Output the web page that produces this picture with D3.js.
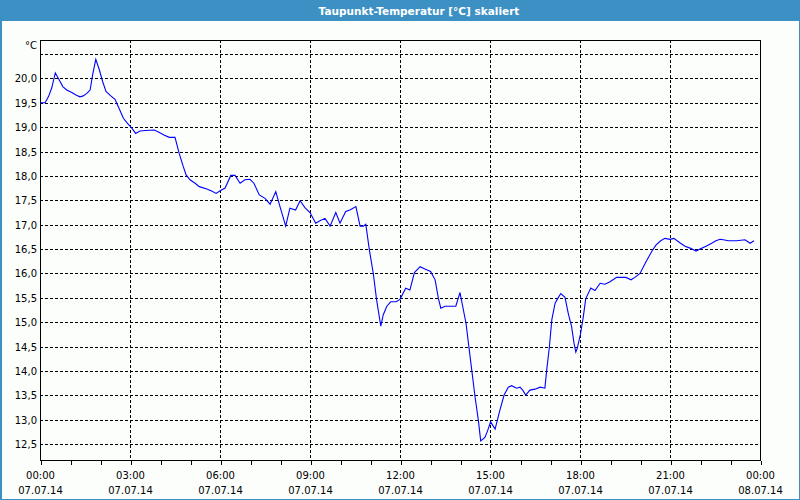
<!DOCTYPE html>
<html>
<head>
<meta charset="utf-8">
<script src="https://cdn.jsdelivr.net/npm/d3@7"></script>
<style>
  html, body { margin: 0; padding: 0; background: #fcfefc; }
  svg { display: block; }
  text { font-family: "DejaVu Sans", Verdana, sans-serif; }
</style>
</head>
<body>
<svg id="chart" width="800" height="500"></svg>
<script>
const title = "Taupunkt-Temperatur [°C] skaliert";
const unitLabel = "°C";

// time of each sample in hours after 07.07.14 00:00
const hours = [
  0, 0.17, 0.28, 0.39, 0.51, 0.61, 0.76, 0.89, 1.06, 1.20, 1.33, 1.44, 1.56, 1.67, 1.76, 1.86, 1.98,
  2.09, 2.20, 2.36, 2.50, 2.63, 2.78, 2.91, 3.06, 3.19, 3.33, 3.53, 3.81, 3.98, 4.13, 4.31, 4.50,
  4.64, 4.76, 4.87, 5.00, 5.17, 5.31, 5.56, 5.72, 5.87, 6.02, 6.17, 6.36, 6.50, 6.67, 6.83, 7.00,
  7.13, 7.31, 7.50, 7.67, 7.86, 8.00, 8.19, 8.33, 8.52, 8.67, 8.83, 9.00, 9.19, 9.33, 9.50, 9.67,
  9.86, 10.00, 10.19, 10.33, 10.53, 10.67, 10.78, 10.86, 10.98, 11.11, 11.22, 11.36, 11.44, 11.56,
  11.69, 11.87, 12.00, 12.19, 12.33, 12.48, 12.67, 12.83, 13.02, 13.17, 13.28, 13.36, 13.50, 13.86,
  14.00, 14.20, 14.31, 14.50, 14.61, 14.69, 14.83, 14.91, 15.02, 15.17, 15.33, 15.47, 15.61, 15.72,
  15.89, 16.00, 16.09, 16.19, 16.33, 16.50, 16.67, 16.83, 16.89, 16.98, 17.06, 17.17, 17.26, 17.36,
  17.50, 17.61, 17.72, 17.80, 17.86, 17.91, 18.02, 18.11, 18.19, 18.36, 18.50, 18.67, 18.83, 19.00,
  19.22, 19.53, 19.70, 19.83, 20.00, 20.20, 20.39, 20.53, 20.69, 20.83, 21.00, 21.13, 21.33, 21.50,
  21.67, 21.87, 22.00, 22.20, 22.39, 22.53, 22.67, 22.78, 22.94, 23.22, 23.50, 23.67, 23.80
];

// dew point in °C
const dewPoint = [
  19.50, 19.50, 19.62, 19.80, 20.11, 20.00, 19.83, 19.76, 19.71, 19.66, 19.62, 19.64, 19.69, 19.76, 20.09, 20.39, 20.17,
  19.93, 19.73, 19.64, 19.57, 19.39, 19.18, 19.08, 18.98, 18.87, 18.92, 18.93, 18.94, 18.89, 18.84, 18.79, 18.79,
  18.46, 18.22, 18.02, 17.92, 17.85, 17.78, 17.73, 17.69, 17.64, 17.70, 17.75, 18.01, 18.01, 17.85, 17.92, 17.93,
  17.85, 17.61, 17.54, 17.42, 17.68, 17.37, 16.97, 17.34, 17.30, 17.49, 17.35, 17.25, 17.03, 17.08, 17.13, 16.97,
  17.25, 17.03, 17.27, 17.30, 17.37, 16.97, 16.97, 17.01, 16.48, 16.00, 15.46, 14.92, 15.15, 15.33,
  15.42, 15.42, 15.47, 15.70, 15.66, 16.02, 16.14, 16.09, 16.04, 15.87, 15.49, 15.29, 15.33, 15.33,
  15.61, 14.98, 14.43, 13.48, 13.00, 12.57, 12.64, 12.76, 12.96, 12.81, 13.20, 13.51, 13.67, 13.70,
  13.65, 13.67, 13.61, 13.51, 13.61, 13.63, 13.67, 13.65, 14.02, 14.50, 15.05, 15.39, 15.49, 15.59,
  15.51, 15.18, 14.91, 14.57, 14.39, 14.47, 14.77, 15.11, 15.48, 15.70, 15.65, 15.80, 15.78, 15.83,
  15.92, 15.92, 15.87, 15.92, 16.00, 16.24, 16.45, 16.58, 16.67, 16.72, 16.70, 16.72, 16.63, 16.56,
  16.52, 16.46, 16.50, 16.56, 16.62, 16.67, 16.70, 16.69, 16.67, 16.67, 16.69, 16.62, 16.67
];

const yTickValues = [12.5, 13.0, 13.5, 14.0, 14.5, 15.0, 15.5, 16.0, 16.5, 17.0, 17.5, 18.0, 18.5, 19.0, 19.5, 20.0];
const yGridValues = [12.5, 13.0, 13.5, 14.0, 14.5, 15.0, 15.5, 16.0, 16.5, 17.0, 17.5, 18.0, 18.5, 19.0, 19.5, 20.0, 20.5];
const xLabelHours = [0, 3, 6, 9, 12, 15, 18, 21, 24];
const xTimeLabels = ["00:00", "03:00", "06:00", "09:00", "12:00", "15:00", "18:00", "21:00", "00:00"];
const xDateLabels = ["07.07.14", "07.07.14", "07.07.14", "07.07.14", "07.07.14", "07.07.14", "07.07.14", "07.07.14", "08.07.14"];
const xGridHours = [3, 6, 9, 12, 15, 18, 21];
const xMinorHours = d3.range(0, 25);

const W = 800, H = 500;
const plot = { left: 40, right: 760, top: 40, bottom: 460 };
const svg = d3.select("#chart");

svg.append("rect").attr("x", 0).attr("y", 0).attr("width", W).attr("height", H).attr("fill", "#fcfefc");
// title bar
svg.append("rect").attr("x", 0).attr("y", 0).attr("width", W).attr("height", 21).attr("fill", "#3d90c4");
svg.append("text").attr("x", 419).attr("y", 15).attr("text-anchor", "middle")
  .attr("fill", "#ffffff").attr("font-weight", "bold").attr("font-size", "10.5px").text(title);
// outer frame
svg.append("rect").attr("x", 0.5).attr("y", 0.5).attr("width", W - 1).attr("height", H - 1)
  .attr("fill", "none").attr("stroke", "#3d90c4").attr("stroke-width", 1);
svg.append("line").attr("x1", 1.5).attr("x2", 1.5).attr("y1", 0).attr("y2", H).attr("stroke", "#3d90c4");

const x = d3.scaleLinear().domain([0, 24]).range([plot.left, plot.right]);
const y = d3.scaleLinear().domain([12.178, 20.785]).range([plot.bottom, plot.top]);
const px = v => Math.round(v) + 0.5;

const grid = svg.append("g").attr("stroke", "#000").attr("stroke-width", 1).attr("stroke-dasharray", "3,2").attr("shape-rendering", "crispEdges");
grid.selectAll("line.h").data(yGridValues).join("line").attr("class", "h")
  .attr("x1", plot.left).attr("x2", plot.right)
  .attr("y1", d => px(y(d))).attr("y2", d => px(y(d)));
grid.selectAll("line.v").data(xGridHours).join("line").attr("class", "v")
  .attr("y1", plot.top).attr("y2", plot.bottom)
  .attr("x1", d => px(x(d))).attr("x2", d => px(x(d)));

// y labels
svg.append("g").selectAll("text").data(yTickValues).join("text")
  .attr("x", 37).attr("y", d => y(d) + 4).attr("text-anchor", "end")
  .attr("font-size", "10px").attr("fill", "#000")
  .text(d => d3.format(".1f")(d).replace(".", ","));
svg.append("text").attr("x", 37).attr("y", 49).attr("text-anchor", "end")
  .attr("font-size", "10px").attr("fill", "#000").text(unitLabel);

// x axis with hourly ticks
const xAxis = d3.axisBottom(x).tickValues(xMinorHours).tickSize(4).tickSizeOuter(0).tickFormat("");
const gx = svg.append("g").attr("transform", `translate(0,${plot.bottom + 0.5})`).call(xAxis);
gx.select(".domain").remove();
gx.selectAll(".tick line").attr("stroke", "#000").attr("shape-rendering", "crispEdges")
  .attr("transform", "translate(0.5,0)");

const xl = svg.append("g").attr("font-size", "10px").attr("fill", "#000").attr("text-anchor", "middle");
xl.selectAll("text.t").data(xLabelHours).join("text").attr("class", "t")
  .attr("x", d => x(d) + 0.5).attr("y", 479).text((d, i) => xTimeLabels[i]);
xl.selectAll("text.d").data(xLabelHours).join("text").attr("class", "d")
  .attr("x", d => x(d) + 0.5).attr("y", 494).text((d, i) => xDateLabels[i]);

// plot frame
svg.append("rect").attr("x", plot.left + 0.5).attr("y", plot.top + 0.5)
  .attr("width", plot.right - plot.left).attr("height", plot.bottom - plot.top)
  .attr("fill", "none").attr("stroke", "#000").attr("stroke-width", 1).attr("shape-rendering", "crispEdges");

// data line
const data = hours.map((h, i) => [h, dewPoint[i]]);
const line = d3.line().x(d => x(d[0])).y(d => y(d[1]));
svg.append("path").datum(data).attr("d", line)
  .attr("fill", "none").attr("stroke", "#0000ff").attr("stroke-width", 1.1);
</script>
</body>
</html>
